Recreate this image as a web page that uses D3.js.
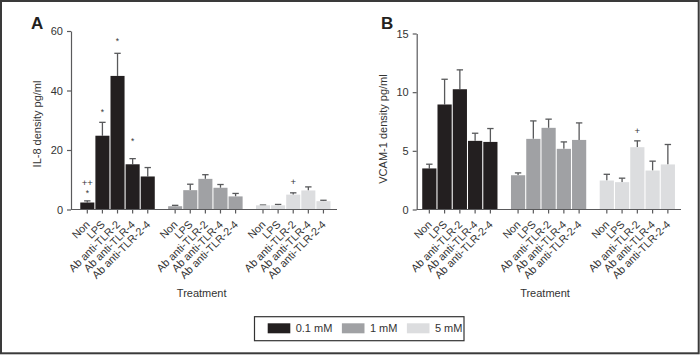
<!DOCTYPE html>
<html><head><meta charset="utf-8">
<script src="https://cdn.jsdelivr.net/npm/d3@7"></script>
<style>
html,body{margin:0;padding:0;background:#fff;}
svg{display:block;font-family:"Liberation Sans",Arial,Helvetica,sans-serif;}
.note{opacity:0.99;}
</style></head>
<body><svg id="c" width="700" height="355"></svg>
<script>
// ---- data ----
const categories = ["Non", "LPS", "Ab anti-TLR-2", "Ab anti-TLR-4", "Ab anti-TLR-2-4"];
const doses = ["0.1 mM", "1 mM", "5 mM"];
const il8_01 = [2.35, 24.8, 44.9, 15.2, 11.1];
const il8_1  = [1.1, 6.5, 10.3, 7.3, 4.4];
const il8_5  = [1.4, 1.4, 5.0, 6.4, 2.8];
const il8Err_01 = [0.55, 4.5, 7.6, 1.9, 3.0];
const il8Err_1  = [0.3, 2.0, 1.4, 1.1, 1.0];
const il8Err_5  = [0.1, 0.3, 0.6, 1.2, 0.3];
const vcam_01 = [3.5, 8.95, 10.25, 5.85, 5.76];
const vcam_1  = [2.92, 6.02, 6.96, 5.17, 5.93];
const vcam_5  = [2.47, 2.33, 5.31, 3.32, 3.84];
const vcamErr_01 = [0.36, 2.15, 1.65, 0.65, 1.14];
const vcamErr_1  = [0.2, 1.53, 0.74, 0.59, 1.45];
const vcamErr_5  = [0.53, 0.34, 0.54, 0.8, 1.7];
const il8Ticks = [0, 20, 40, 60];
const vcamTicks = [0, 5, 10, 15];
// annotations: [dose index, category index, symbol, value-level of symbol centre]
const il8Notes = [[0, 0, "*", 6.2], [0, 0, "++", 9.0], [0, 1, "*", 33.6], [0, 2, "*", 57.2], [0, 3, "*", 23.7], [2, 2, "+", 9.3]];
const vcamNotes = [[2, 2, "+", 6.76]];

// ---- styles ----
const colors = ["#231f20", "#a0a1a4", "#dcdddf"];
const textCol = "#333";
const axisCol = "#5a5a5c";
const errCol = "#58595b";

const svg = d3.select("#c");
svg.append("rect").attr("x", 1).attr("y", 1).attr("width", 697.7).attr("height", 352.3)
  .attr("fill", "none").attr("stroke", "#3a3a3a").attr("stroke-width", 2);

function panel(cfg) {
  const g = svg.append("g");
  const y = d3.scaleLinear().domain(cfg.domain).range([209.5, cfg.yTop]);
  const xg = d3.scaleBand().domain(doses).range([cfg.x0 + cfg.padL, cfg.x1 - cfg.padR]).paddingInner(0.14).paddingOuter(0);
  const xc = d3.scaleBand().domain(categories).range([0, xg.bandwidth()]).paddingInner(0.07).paddingOuter(0.035);
  const color = d3.scaleOrdinal().domain(doses).range(colors);

  const rows = [];
  doses.forEach((d, i) => categories.forEach((c, j) => rows.push({dose: d, cat: c, v: cfg.means[i][j], e: cfg.errs[i][j]})));
  const cx = r => xg(r.dose) + xc(r.cat) + xc.bandwidth() / 2;

  // error bars
  const eb = g.append("g").attr("stroke", errCol).attr("stroke-width", 1.3);
  eb.selectAll("line.v").data(rows).join("line").attr("class", "v")
    .attr("x1", cx).attr("x2", cx).attr("y1", r => y(r.v)).attr("y2", r => y(r.v + r.e));
  eb.selectAll("line.c").data(rows).join("line").attr("class", "c")
    .attr("x1", r => cx(r) - 3.2).attr("x2", r => cx(r) + 3.2).attr("y1", r => y(r.v + r.e)).attr("y2", r => y(r.v + r.e));

  // bars
  g.append("g").selectAll("rect").data(rows).join("rect")
    .attr("x", r => xg(r.dose) + xc(r.cat)).attr("width", xc.bandwidth())
    .attr("y", r => y(r.v)).attr("height", r => y(0) - y(r.v))
    .attr("fill", r => color(r.dose));

  // y axis
  const ya = g.append("g").attr("transform", `translate(${cfg.x0},0)`)
    .call(d3.axisLeft(y).tickValues(cfg.ticks).tickSize(4).tickSizeOuter(0).tickPadding(4));
  ya.select(".domain").attr("stroke", axisCol).attr("stroke-width", 1.2);
  ya.selectAll(".tick line").attr("stroke", axisCol).attr("stroke-width", 1.2);
  ya.selectAll("text").attr("fill", textCol).attr("font-size", 11).attr("font-family", null);

  // x axis line + ticks
  g.append("line").attr("x1", cfg.x0).attr("x2", cfg.x1).attr("y1", y(0)).attr("y2", y(0))
    .attr("stroke", axisCol).attr("stroke-width", 1.2);
  g.append("g").selectAll("line").data(rows).join("line")
    .attr("x1", cx).attr("x2", cx).attr("y1", y(0)).attr("y2", y(0) + 4)
    .attr("stroke", axisCol).attr("stroke-width", 1.2);
  g.append("g").selectAll("text").data(rows).join("text")
    .attr("transform", r => `translate(${cx(r) + 0.5},${y(0) + 13}) rotate(-45)`)
    .attr("text-anchor", "end").attr("dy", "0.35em")
    .attr("font-size", 10.8).attr("fill", textCol).text(r => r.cat);

  // annotations
  g.append("g").attr("class", "note").selectAll("text").data(cfg.notes).join("text")
    .attr("x", n => xg(doses[n[0]]) + xc(categories[n[1]]) + xc.bandwidth() / 2)
    .attr("y", n => y(n[3]) + (n[2] === "*" ? 5.0 : 3.4))
    .attr("text-anchor", "middle").attr("font-size", n => n[2] === "*" ? 8.5 : 9.5)
    .attr("fill", textCol).text(n => n[2]);

  // titles
  g.append("text").attr("transform", `translate(${cfg.titleX},${cfg.titleY}) rotate(-90)`)
    .attr("text-anchor", "middle").attr("dy", "0.35em").attr("font-size", 11).attr("fill", textCol).text(cfg.title);
  g.append("text").attr("x", cfg.letterX).attr("y", 29).attr("font-size", 17).attr("font-weight", "bold")
    .attr("fill", "#231f20").text(cfg.letter);
  g.append("text").attr("x", cfg.treatX).attr("y", 296.7).attr("text-anchor", "middle")
    .attr("font-size", 11).attr("fill", textCol).text("Treatment");
}

panel({x0: 71, x1: 337, padL: 8.75, padR: 6, domain: [0, 60], yTop: 31, ticks: il8Ticks,
  means: [il8_01, il8_1, il8_5], errs: [il8Err_01, il8Err_1, il8Err_5], notes: il8Notes,
  title: "IL-8 density pg/ml", titleX: 37, titleY: 124, letter: "A", letterX: 31, treatX: 201.7});
panel({x0: 416.7, x1: 681, padL: 5, padR: 5.5, domain: [0, 15], yTop: 33.5, ticks: vcamTicks,
  means: [vcam_01, vcam_1, vcam_5], errs: [vcamErr_01, vcamErr_1, vcamErr_5], notes: vcamNotes,
  title: "VCAM-1 density pg/ml", titleX: 383, titleY: 129, letter: "B", letterX: 381, treatX: 545});

// legend
const lg = svg.append("g");
lg.append("rect").attr("x", 254.5).attr("y", 316.7).attr("width", 209.5).attr("height", 24)
  .attr("fill", "#fff").attr("stroke", "#333").attr("stroke-width", 1.2);
let lx = 267.7;
doses.forEach((d, i) => {
  lg.append("rect").attr("x", lx).attr("y", 323.3).attr("width", 22.6).attr("height", 10).attr("fill", colors[i]);
  const t = lg.append("text").attr("x", lx + 28).attr("y", 332.3).attr("font-size", 11).attr("fill", textCol).text(d);
  lx += 28 + t.node().getComputedTextLength() + 9.5;
});
</script></body></html>
